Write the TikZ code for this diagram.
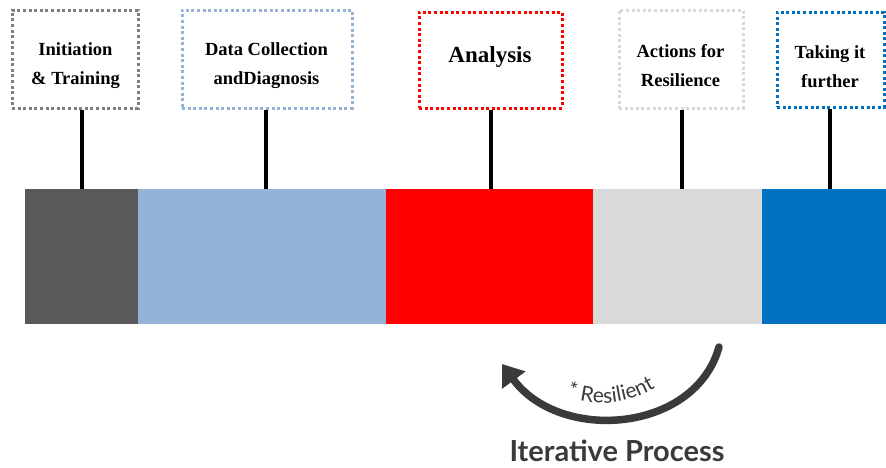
\documentclass[tikz,border=0pt]{standalone}
\usepackage{fontspec}
\setmainfont{Liberation Serif}
\newfontfamily\labelsans{Lato}
\usetikzlibrary{arrows.meta,decorations.text}
\definecolor{segdark}{HTML}{595959}
\definecolor{seglight}{HTML}{95B3D7}
\definecolor{segred}{HTML}{FF0000}
\definecolor{seggray}{HTML}{D9D9D9}
\definecolor{segblue}{HTML}{0070C0}
\definecolor{boxgray}{HTML}{7F7F7F}
\definecolor{arcgray}{HTML}{3A3A3A}
\tikzset{
  phasebox/.style={draw=#1, line width=3pt, dash pattern=on 3pt off 2.6pt,
    fill=white, inner sep=0pt},
  phasetext/.style={align=center, inner sep=0pt,
    font=\bfseries\fontsize{18.5}{29}\selectfont},
  stem/.style={line width=4pt, black}
}
\begin{document}
\begin{tikzpicture}[x=1pt,y=-1pt]
\useasboundingbox (0,0) rectangle (886,467);
% timeline bar
\fill[segdark]  (25,189)  rectangle (138,324);
\fill[seglight] (138,189) rectangle (386,324);
\fill[segred]   (386,189) rectangle (593,324);
\fill[seggray]  (593,189) rectangle (762,324);
\fill[segblue]  (762,189) rectangle (886,324);
\coordinate (s1) at (82,189);
\coordinate (s2) at (266,189);
\coordinate (s3) at (491,189);
\coordinate (s4) at (682,189);
\coordinate (s5) at (830,189);
% phase boxes
\node[phasebox=boxgray, minimum width=126pt, minimum height=98pt] (b1) at (75,59) {};
\node[phasebox=seglight, minimum width=170pt, minimum height=98pt] (b2) at (267,59) {};
\node[phasebox=segred, minimum width=143pt, minimum height=96pt] (b3) at (490.5,60) {};
\node[phasebox=seggray, minimum width=124pt, minimum height=98pt] (b4) at (681,59) {};
\node[phasebox=segblue, minimum width=107pt, minimum height=95pt] (b5) at (830.5,59.5) {};
% phase labels
\node[phasetext] (t1) at (75.5,65.5) {Initiation\\\& Training};
\node[phasetext] (t2) at (266.5,65.5) {Data Collection\\andDiagnosis};
\node[phasetext, font=\bfseries\fontsize{23}{29}\selectfont] (t3) at (490,57) {Analysis};
\node[phasetext] (t4) at (680.5,65.5) {Actions for\\Resilience};
\node[phasetext] (t5) at (830,66.5) {Taking it\\further};
% stems
\draw[stem] (b1.south -| s1) -- (s1);
\draw[stem] (b2.south -| s2) -- (s2);
\draw[stem] (b3.south -| s3) -- (s3);
\draw[stem] (b4.south -| s4) -- (s4);
\draw[stem] (b5.south -| s5) -- (s5);
% iteration arrow
\coordinate (a0) at (719,347);
\coordinate (a1) at (502,364);
\draw[arcgray, line width=7.5pt, line cap=round, -{Triangle[length=20pt,width=28pt]}]
  (a0) .. controls (695,433) and (560,443) .. (a1);
\path[decorate, decoration={text along path, text align=center,
    text color=arcgray, text={|\labelsans\fontsize{21}{22}\selectfont|* Resilient}}]
  (548,386) .. controls (583,410) and (632,410) .. (672,376);
\node[text=arcgray, font=\labelsans\bfseries\fontsize{29}{32}\selectfont] (it) at (617,450.5) {Iterative Process};
\end{tikzpicture}
\end{document}
